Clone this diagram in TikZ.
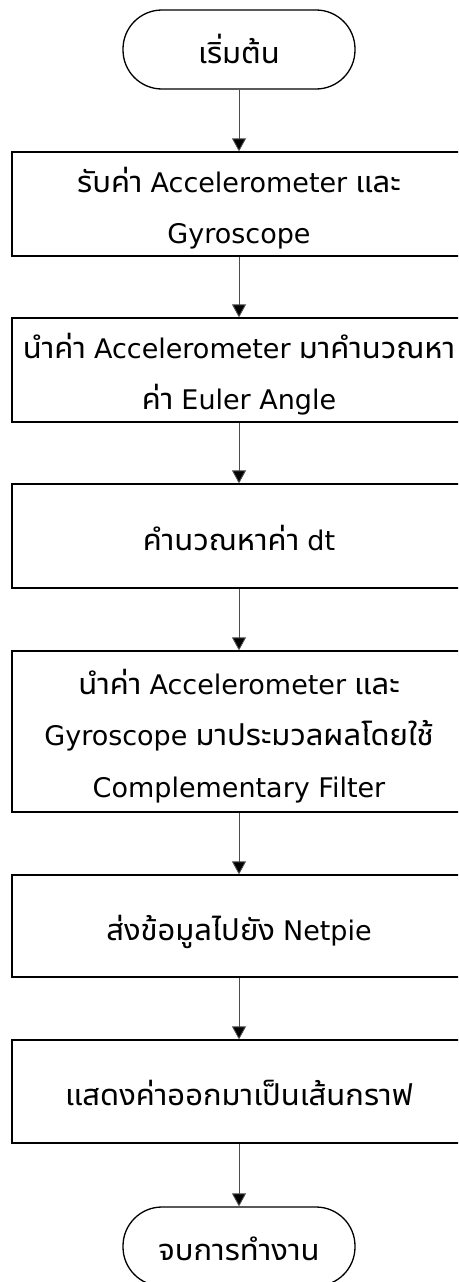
\documentclass[tikz,border=0pt]{standalone}
\usepackage{fontspec}
\newfontfamily\thaifont[Script=Thai]{Noto Sans Thai UI}
\newfontfamily\latinfont{DejaVu Sans}
\newcommand{\lat}[1]{{\latinfont\fontsize{27}{52}\selectfont #1}}
\usetikzlibrary{arrows.meta}
\begin{document}
\begin{tikzpicture}[x=1pt,y=-1pt,
  every node/.style={inner sep=0pt},
  txt/.style={anchor=base, font=\thaifont\fontsize{31}{52}\selectfont},
  terminal/.style={draw, line width=1.3pt, rounded corners=39pt,
    minimum width=232pt, minimum height=79pt},
  procbox/.style={draw, line width=1.3pt, minimum width=454pt},
  flow/.style={draw=black!70, line width=0.9pt,
    -{Triangle[width=14pt,length=13pt,fill=black]}}]
  \clip (0,0) rectangle (458,1282);
  \useasboundingbox (0,0) rectangle (458,1282);

  % shapes of the flow chart
  \node[terminal] (start) at (239,49.5) {};
  \node[procbox, minimum height=104pt] (read) at (239,204) {};
  \node[procbox, minimum height=104pt] (euler) at (239,370) {};
  \node[procbox, minimum height=104pt] (dt) at (239,536) {};
  \node[procbox, minimum height=161pt] (filter) at (239,731.5) {};
  \node[procbox, minimum height=102pt] (send) at (239,926) {};
  \node[procbox, minimum height=103pt] (show) at (239,1091.5) {};
  \node[terminal] (stop) at (239,1246.5) {};

  % texts, one node per line, placed on their baselines
  \node[txt] (t0) at (239,63) {เริ่มต้น};
  \node[txt] (t1a) at (239,192) {รับค่า \lat{Accelerometer} และ};
  \node[txt] (t1b) at (239,243) {\lat{Gyroscope}};
  \node[txt] (t2a) at (239,358) {นำค่า \lat{Accelerometer} มาคำนวณหา};
  \node[txt] (t2b) at (239,409) {ค่า \lat{Euler Angle}};
  \node[txt] (t3) at (239,550) {คำนวณหาค่า \lat{dt}};
  \node[txt] (t4a) at (239,694) {นำค่า \lat{Accelerometer} และ};
  \node[txt] (t4b) at (239,745) {\lat{Gyroscope} มาประมวลผลโดยใช้};
  \node[txt] (t4c) at (239,797) {\lat{Complementary Filter}};
  \node[txt] (t5) at (239,940) {ส่งข้อมูลไปยัง \lat{Netpie}};
  \node[txt] (t6) at (239,1105) {แสดงค่าออกมาเป็นเส้นกราฟ};
  \node[txt] (t7) at (239,1260) {จบการทำงาน};

  % connectors
  \draw[flow] (start) -- (read);
  \draw[flow] (read) -- (euler);
  \draw[flow] (euler) -- (dt);
  \draw[flow] (dt) -- (filter);
  \draw[flow] (filter) -- (send);
  \draw[flow] (send) -- (show);
  \draw[flow] (show) -- (stop);
\end{tikzpicture}
\end{document}
